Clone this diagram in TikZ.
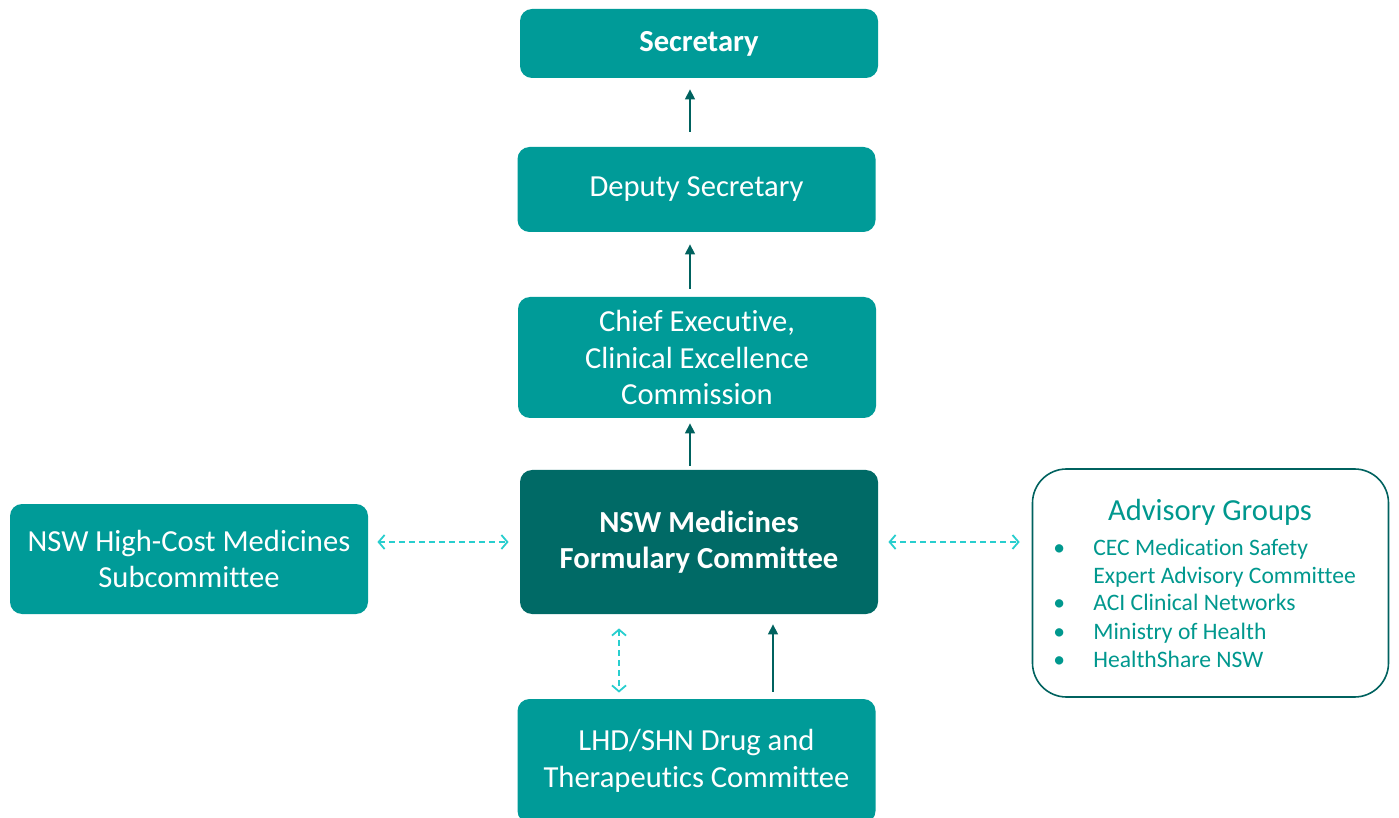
\documentclass[tikz,border=0pt]{standalone}
\usepackage{fontspec}
\setmainfont{Carlito}[Ligatures=NoCommon]
\usetikzlibrary{arrows.meta}
\definecolor{nteal}{RGB}{0,155,152}
\definecolor{ndark}{RGB}{0,106,102}
\definecolor{nline}{RGB}{0,98,95}
\definecolor{ncyan}{RGB}{40,206,206}
\definecolor{ntext}{RGB}{0,152,142}
\tikzset{
  box/.style   ={rectangle, rounded corners=6pt, fill=nteal, text=white,
                 align=center, minimum width=179pt, inner sep=0pt,
                 font=\fontsize{15.3}{18.2}\selectfont},
  dark/.style  ={box, fill=ndark, font=\fontsize{15.3}{18.2}\selectfont\bfseries},
  advbox/.style={rectangle, rounded corners=17pt, draw=nline, line width=0.8pt,
                 fill=white, minimum width=178pt, minimum height=114pt},
  up/.style    ={-{Triangle[length=5pt,width=5pt]}, draw=nline, line width=0.7pt},
  link/.style  ={{Straight Barb[length=3pt,width=7pt]}-{Straight Barb[length=3pt,width=7pt]},
                 draw=ncyan, line width=0.9pt, dash pattern=on 3pt off 2pt}
}

\begin{document}
\begin{tikzpicture}[x=0.5pt, y=-0.5pt]
\clip (0,0) rectangle (1399,818);

\node[box, font=\fontsize{15.3}{18.2}\selectfont\bfseries, minimum height=34.5pt]
  (sec) at (699,43.5) {Secretary};
\node[box, minimum height=42.5pt] (dep) at (696.5,189.5) {Deputy Secretary};
\node[box, minimum height=60.5pt] (chief) at (697,357.5)
  {Chief Executive,\\Clinical Excellence\\Commission};
\node[dark, minimum height=72pt] (mfc) at (699,542)
  {NSW Medicines\\Formulary Committee};
\node[box, minimum height=55pt] (high) at (189,559)
  {NSW High-Cost Medicines\\Subcommittee};
\node[box, minimum height=62pt] (lhd) at (696.5,761)
  {LHD/SHN Drug and\\Therapeutics Committee};

% advisory groups
\node[advbox] (adv) at (1210.5,583) {};
\node[anchor=base, text=ntext, font=\fontsize{15.3}{18.2}\selectfont]
  (advtitle) at (1210,521) {Advisory Groups};
\node[anchor=base west, inner sep=0pt, text=ntext, font=\fontsize{11.8}{14}\selectfont]
  (advlist) at (1053,555)
  {\begin{tabular}[t]{@{}p{20pt}@{}l@{}}
   \textbullet & CEC Medication Safety\\
               & Expert Advisory Committee\\
   \textbullet & ACI Clinical Networks\\
   \textbullet & Ministry of Health\\
   \textbullet & HealthShare NSW
   \end{tabular}};

% reporting lines
\draw[up, shorten <=7.5pt, shorten >=5.5pt]
  ([xshift=-3.25pt]dep.north) -- ([xshift=-3.25pt]dep.north |- sec.south);
\draw[up, shorten <=4pt, shorten >=6pt]
  ([xshift=-3.5pt]chief.north) -- ([xshift=-3.5pt]chief.north |- dep.south);
\draw[up, shorten <=2pt, shorten >=2.5pt]
  ([xshift=-4.5pt]mfc.north) -- ([xshift=-4.5pt]mfc.north |- chief.south);
\draw[up, shorten <=3.5pt, shorten >=5pt]
  ([xshift=37pt]mfc.south |- lhd.north) -- ([xshift=37pt]mfc.south);

% two-way links
\draw[link, shorten <=4.5pt, shorten >=5.5pt] (high.east |- mfc) -- (mfc.west);
\draw[link, shorten <=5pt, shorten >=6pt] (mfc.east) -- (adv.west |- mfc);
\draw[link, shorten <=7pt, shorten >=3pt]
  ([xshift=-40pt]mfc.south) -- ([xshift=-40pt]mfc.south |- lhd.north);
\end{tikzpicture}
\end{document}
